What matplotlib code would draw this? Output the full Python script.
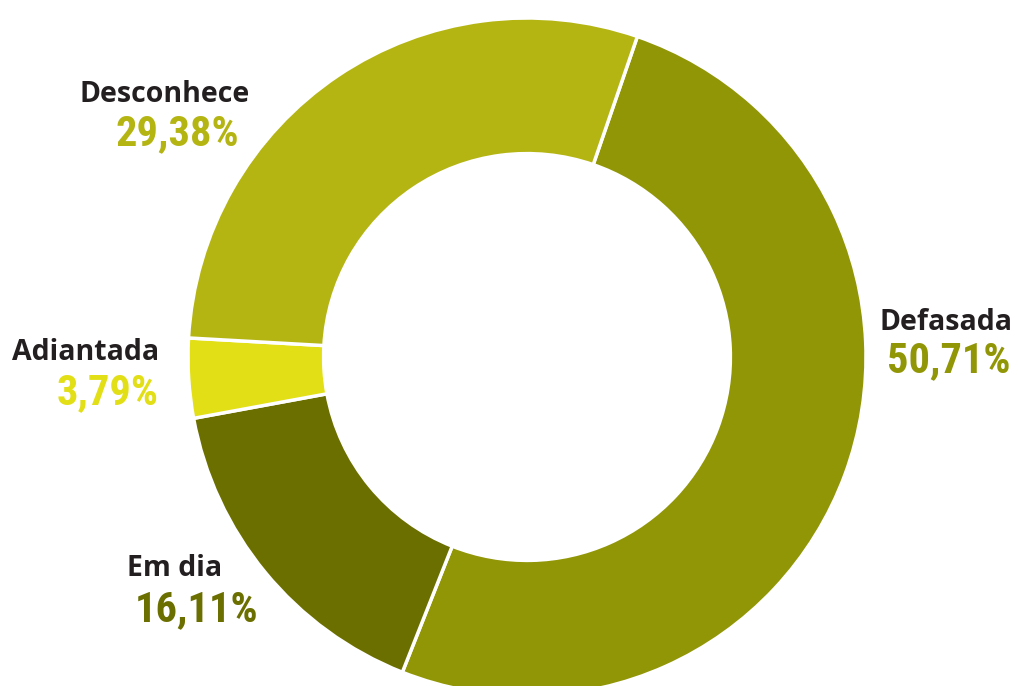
import matplotlib.pyplot as plt

# Situação declarada (%)
categorias = ["Defasada", "Em dia", "Adiantada", "Desconhece"]
valores = [50.71, 16.11, 3.79, 29.38]
cores = ["#919606", "#6b6f00", "#e2df16", "#b4b513"]
rotulos_pct = ["50,71%", "16,11%", "3,79%", "29,38%"]

# posições dos rótulos (pixels, origem no canto superior esquerdo)
pos_nome = [(946, 322), (175, 568), (86, 353), (165, 95)]
pos_pct = [(949, 361), (197, 610), (108, 393), (177, 134)]

W, H = 1018, 686
fig = plt.figure(figsize=(W / 100, H / 100), dpi=100)
ax = fig.add_axes([0, 0, 1, 1])
ax.set_aspect("equal")

ax.pie(
    valores,
    colors=cores,
    startangle=71,
    counterclock=False,
    center=(527, H - 357),
    radius=339,
    wedgeprops=dict(width=339 * 0.4, edgecolor="white", linewidth=2.5),
    frame=True,
)
ax.set_xlim(0, W)
ax.set_ylim(0, H)
ax.axis("off")

fonte_nome = ["Open Sans", "DejaVu Sans"]
fonte_pct = ["Roboto Condensed", "Open Sans Condensed", "Liberation Sans Narrow",
             "DejaVu Sans Condensed", "Open Sans"]

for nome, pct, cor, (nx, ny), (px, py) in zip(categorias, rotulos_pct, cores, pos_nome, pos_pct):
    ax.text(nx, H - ny, nome, ha="center", va="center", fontsize=20.5,
            fontweight="bold", color="#231f20", family=fonte_nome)
    ax.text(px, H - py, pct, ha="center", va="center", fontsize=30.5,
            fontweight="bold", color=cor, family=fonte_pct, fontstretch="condensed")

fig.savefig("out.png", dpi=100)
